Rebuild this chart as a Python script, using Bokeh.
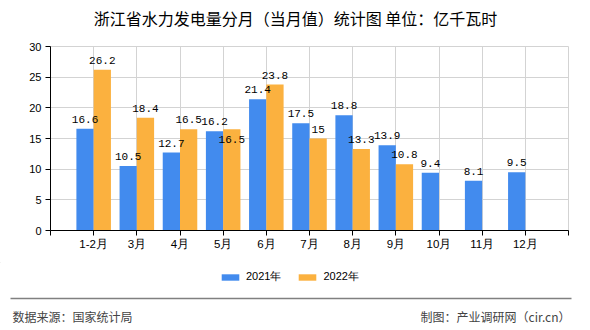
import numpy as np
from bokeh.plotting import figure
from bokeh.layouts import column
from bokeh.models import (ColumnDataSource, Range1d, FixedTicker, Legend, LegendItem)
from bokeh.core.properties import value
from bokeh.embed import file_html
from bokeh.resources import INLINE

months = ["1-2月", "3月", "4月", "5月", "6月", "7月", "8月", "9月", "10月", "11月", "12月"]
v2021 = [16.6, 10.5, 12.7, 16.2, 21.4, 17.5, 18.8, 13.9, 9.4, 8.1, 9.5]
v2022 = [26.2, 18.4, 16.5, 16.5, 23.8, 15.0, 13.3, 10.8]
y_ticks = [0, 5, 10, 15, 20, 25, 30]
series_names = ["2021年", "2022年"]

title_text = "浙江省水力发电量分月（当月值）统计图 单位：亿千瓦时"
source_text = "数据来源：国家统计局"
credit_text = "制图：产业调研网（cir.cn）"

BLUE = "#428BEE"
ORANGE = "#FBB13F"
GRID = "#d3d3d3"
CJK = "Noto Sans CJK SC"

W = 590
HEAD_H, MAIN_H, FOOT_H = 30, 232, 68
L, R, T, B = 50, 22, 16, 32


def plain_fig(h):
    f = figure(width=W, height=h, output_backend="svg", toolbar_location=None,
               x_range=Range1d(0, W), y_range=Range1d(h, 0),
               x_axis_type=None, y_axis_type=None,
               min_border=0, min_border_left=0, min_border_right=0,
               min_border_top=0, min_border_bottom=0, frame_align=False)
    f.grid.visible = False
    f.outline_line_color = None
    return f


# ---------- header ----------
head = plain_fig(HEAD_H)
head.text(x=[W / 2], y=[17], text=[title_text], text_align="center", text_baseline="middle",
          text_font=value(CJK), text_font_size="16px", text_color="#000000")

# ---------- main chart ----------
n = len(months)
idx = np.arange(n)
off = 0.2
bw = 0.4


def fmt(v):
    return "%g" % v


# labels that would collide with a neighbour are pushed inside the bar
inside_2022 = {"5月"}

s21 = ColumnDataSource(dict(x=idx - off, top=v2021, lab=[fmt(v) for v in v2021], yo=[-6] * n))
n22 = len(v2022)
s22 = ColumnDataSource(dict(x=idx[:n22] + off, top=v2022, lab=[fmt(v) for v in v2022],
                            yo=[14 if months[i] in inside_2022 else -6 for i in range(n22)]))

p = figure(width=W, height=MAIN_H, output_backend="svg", toolbar_location=None,
           x_range=Range1d(-1, n), y_range=Range1d(0, 30),
           min_border_left=L, min_border_right=R, min_border_top=T, min_border_bottom=B,
           frame_align=False)

r21 = p.vbar(x="x", top="top", width=bw, source=s21, fill_color=BLUE, line_color=None)
r22 = p.vbar(x="x", top="top", width=bw, source=s22, fill_color=ORANGE, line_color=None)

lab_font = value("Liberation Mono")
for s in (s21, s22):
    p.text(x="x", y="top", text="lab", source=s, text_align="center", text_baseline="bottom",
           y_offset="yo", text_font=lab_font, text_font_size="11px", text_color="#000000")

xt = list(range(-1, n + 1))
p.xaxis.ticker = FixedTicker(ticks=xt)
ov = {i: "" for i in xt}
for i, m in enumerate(months):
    ov[i] = m
p.xaxis.major_label_overrides = ov
p.yaxis.ticker = FixedTicker(ticks=y_ticks)
for ax in (p.xaxis[0], p.yaxis[0]):
    ax.axis_line_color = "#000000"
    ax.major_tick_line_color = "#000000"
    ax.minor_tick_line_color = None
    ax.major_tick_in = 0
    ax.major_tick_out = 5
    ax.major_label_text_font = "Liberation Sans"
    ax.major_label_text_color = "#000000"
p.xaxis.major_label_text_font_size = "11.5px"
p.yaxis.major_label_text_font_size = "11px"
p.xaxis.major_label_standoff = 2
p.yaxis.major_label_standoff = 4

p.xgrid.ticker = FixedTicker(ticks=xt)
p.ygrid.ticker = FixedTicker(ticks=y_ticks)
p.grid.grid_line_color = GRID
p.outline_line_color = GRID

# ---------- footer (legend + source line) ----------
foot = plain_fig(FOOT_H)
# swatch renderers for the legend, kept far outside the visible range
d21 = foot.vbar(x=[-5000], top=[-5000], bottom=[-5001], width=1, fill_color=BLUE, line_color=None)
d22 = foot.vbar(x=[-5000], top=[-5000], bottom=[-5001], width=1, fill_color=ORANGE, line_color=None)
legend = Legend(items=[LegendItem(label=series_names[0], renderers=[d21]),
                       LegendItem(label=series_names[1], renderers=[d22])],
                orientation="horizontal", location=(219, FOOT_H - 22),
                glyph_width=22, glyph_height=8, label_height=8, label_width=10,
                label_standoff=5, spacing=15, padding=0, margin=0,
                border_line_color=None, background_fill_alpha=0,
                label_text_font="Liberation Sans", label_text_font_size="11px",
                label_text_color="#000000")
foot.add_layout(legend, "center")

foot.segment(x0=[10], y0=[36], x1=[571], y1=[36], line_color="#808080", line_width=1.5)
foot.text(x=[12], y=[54], text=[source_text], text_align="left", text_baseline="middle",
          text_font=value(CJK), text_font_size="12px", text_color="#444444")
foot.text(x=[570], y=[54], text=[credit_text], text_align="right", text_baseline="middle",
          text_font=value(CJK), text_font_size="12px", text_color="#444444")

layout = column(head, p, foot, spacing=0)
open("out.html", "w").write(file_html(layout, INLINE))
